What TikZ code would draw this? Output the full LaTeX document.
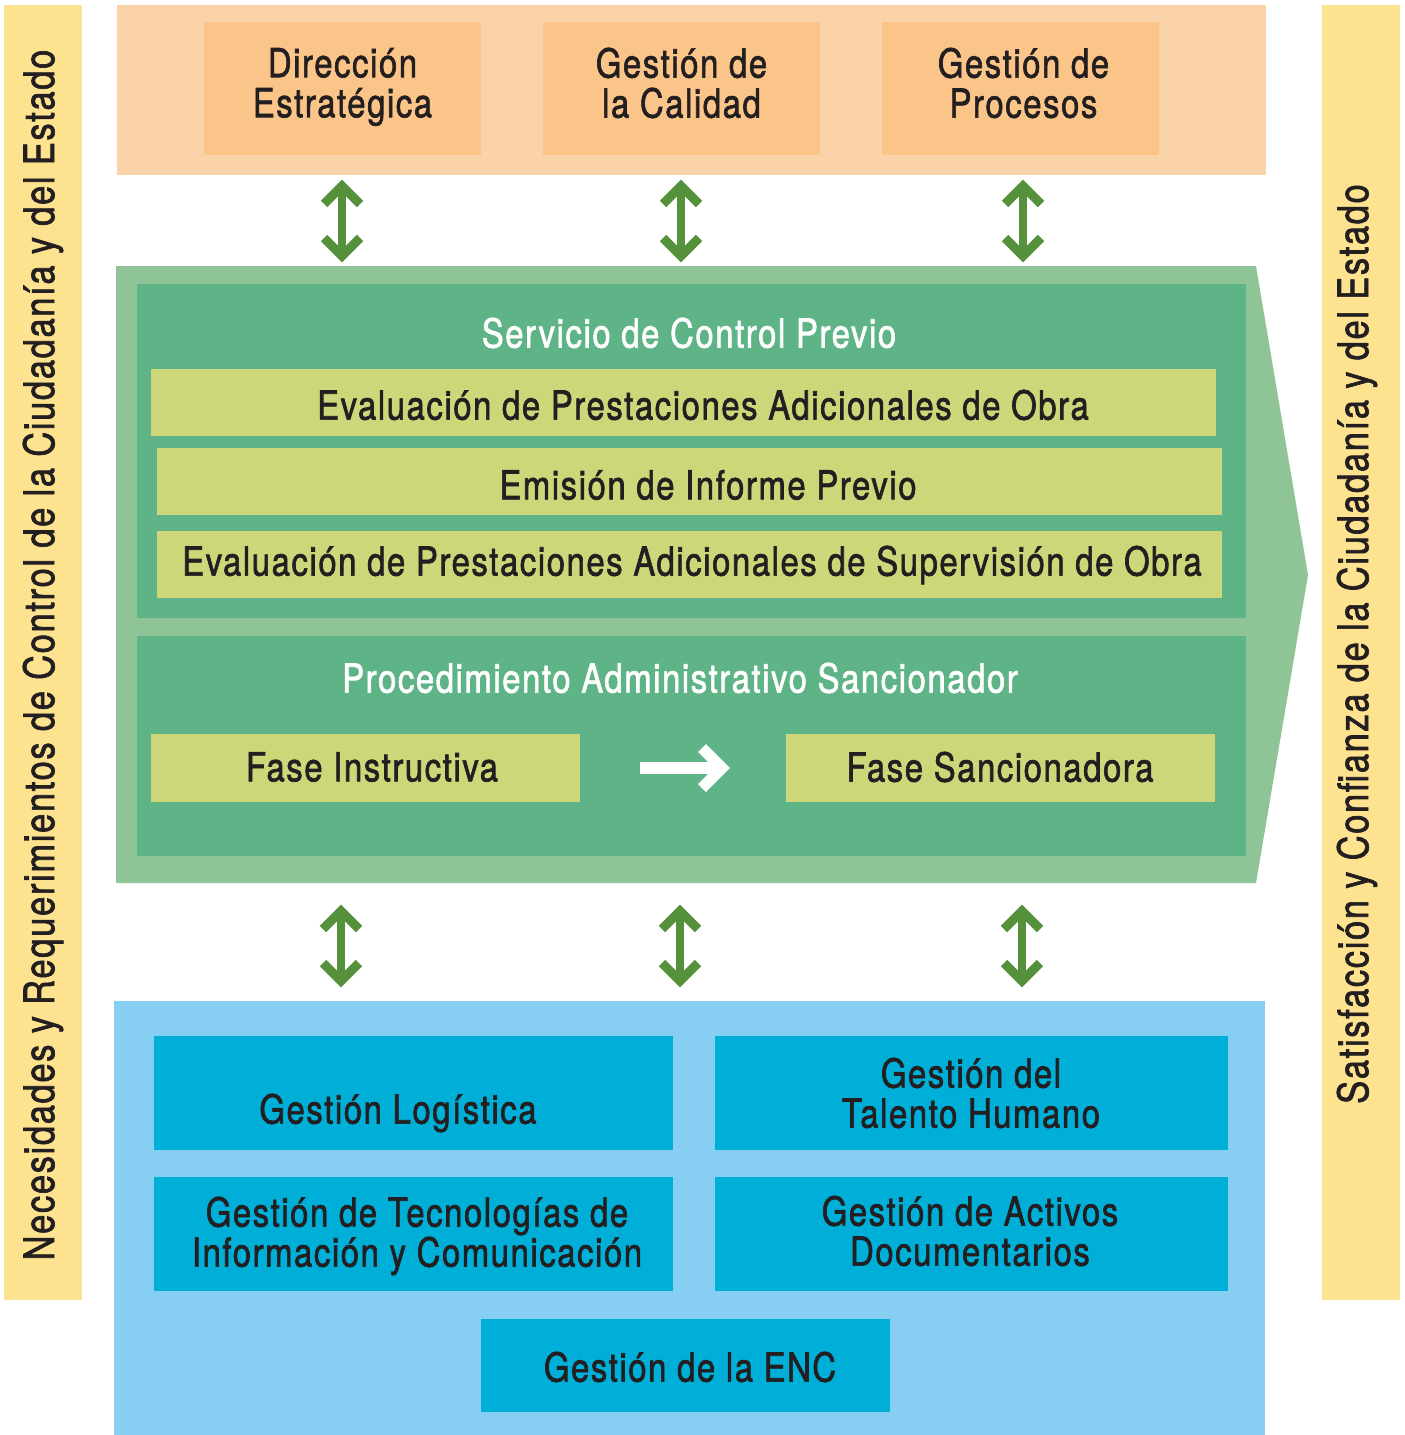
\documentclass[tikz,border=0pt]{standalone}
\usepackage{fontspec}
\setmainfont[FakeStretch=0.82,FakeBold=1.6,LetterSpace=4]{TeX Gyre Heros}
\begin{document}
\begin{tikzpicture}[x=1pt,y=-1pt,
  txt/.style={text=textdark,font=\fontsize{40}{40}\selectfont,align=center,inner sep=0pt},
  sidetxt/.style={text=textdark,font=\fontsize{42}{42}\selectfont,align=center,inner sep=0pt,rotate=90},
  wtxt/.style={text=white,font=\fontsize{40}{40}\selectfont,align=center,inner sep=0pt},
  dbl/.style={draw=arrgreen,line width=9pt,miter limit=10},
]
\definecolor{textdark}{HTML}{231F20}
\definecolor{sideyellow}{HTML}{FDE28F}
\definecolor{peach}{HTML}{FAD3A9}
\definecolor{orangebox}{HTML}{FBC58A}
\definecolor{outergreen}{HTML}{8FC497}
\definecolor{innergreen}{HTML}{5FB487}
\definecolor{lime}{HTML}{CDD679}
\definecolor{lightblue}{HTML}{86CFF3}
\definecolor{bluebox}{HTML}{00AFD8}
\definecolor{arrgreen}{HTML}{54913A}
\useasboundingbox (0,0) rectangle (1405,1435);
\fill[white] (0,0) rectangle (1405,1435);
% side bars
\fill[sideyellow] (4,5) rectangle (82,1300);
\fill[sideyellow] (1322,5) rectangle (1400,1300);
\node[sidetxt] (leftlbl) at (43,655) {Necesidades y Requerimientos de Control de la Ciudadanía y del Estado};
\node[sidetxt] (rightlbl) at (1357,644) {Satisfacción y Confianza de la Ciudadanía y del Estado};
% top band
\fill[peach] (117,5) rectangle (1266,175);
\fill[orangebox] (204,22) rectangle (481,155);
\fill[orangebox] (543,22) rectangle (820,155);
\fill[orangebox] (882,22) rectangle (1159,155);
\node[txt] (dir) at (342.5,87) {Dirección\\Estratégica};
\node[txt] (cal) at (681.5,83) {Gestión de\\la Calidad};
\node[txt] (proc) at (1023.5,83) {Gestión de\\Procesos};
% chevron
\fill[outergreen] (116,266) -- (1256,266) -- (1308,575) -- (1256,883) -- (116,883) -- cycle;
\fill[innergreen] (137,284) rectangle (1246,618);
\fill[innergreen] (137,636) rectangle (1246,856);
\node[wtxt] (scp) at (689,333) {Servicio de Control Previo};
\fill[lime] (151,369) rectangle (1216,436);
\fill[lime] (157,448) rectangle (1222,515);
\fill[lime] (157,531) rectangle (1222,598);
\node[txt] (ev1) at (703,405) {Evaluación de Prestaciones Adicionales de Obra};
\node[txt] (emi) at (708,485) {Emisión de Informe Previo};
\node[txt] (ev2) at (692,565) {Evaluación de Prestaciones Adicionales de Supervisión de Obra};
\node[wtxt] (pas) at (680,678) {Procedimiento Administrativo Sancionador};
\fill[lime] (151,734) rectangle (580,802);
\fill[lime] (786,734) rectangle (1215,802);
\node[txt] (fi) at (372,767) {Fase Instructiva};
\node[txt] (fs) at (1000,767) {Fase Sancionadora};
\coordinate (wa1) at (640,768);
\coordinate (wa2) at (718,768);
\draw[white,line width=12pt] (wa1) -- (wa2);
\draw[white,line width=11pt,miter limit=10] (702,748) -- (722,768) -- (702,788);
% blue band
\fill[lightblue] (114,1001) rectangle (1265,1435);
\fill[bluebox] (154,1036) rectangle (673,1150);
\fill[bluebox] (715,1036) rectangle (1228,1150);
\fill[bluebox] (154,1177) rectangle (673,1291);
\fill[bluebox] (715,1177) rectangle (1228,1291);
\fill[bluebox] (481,1319) rectangle (890,1412);
\node[txt] (log) at (398,1113) {Gestión Logística};
\node[txt] (tal) at (971,1093) {Gestión del\\Talento Humano};
\node[txt] (tic) at (417,1236) {Gestión de Tecnologías de\\Información y Comunicación};
\node[txt] (act) at (970,1231) {Gestión de Activos\\Documentarios};
\node[txt] (enc) at (690,1367) {Gestión de la ENC};
% double arrows
\foreach \cx/\cy in {342/221, 681/221, 1023/221, 341/946, 680/946, 1022/946}{
  \draw[arrgreen,line width=8pt] (\cx,\cy-33) -- (\cx,\cy+33);
  \draw[dbl] (\cx-18,\cy-17) -- (\cx,\cy-35) -- (\cx+18,\cy-17);
  \draw[dbl] (\cx-18,\cy+17) -- (\cx,\cy+35) -- (\cx+18,\cy+17);
}
\end{tikzpicture}
\end{document}
